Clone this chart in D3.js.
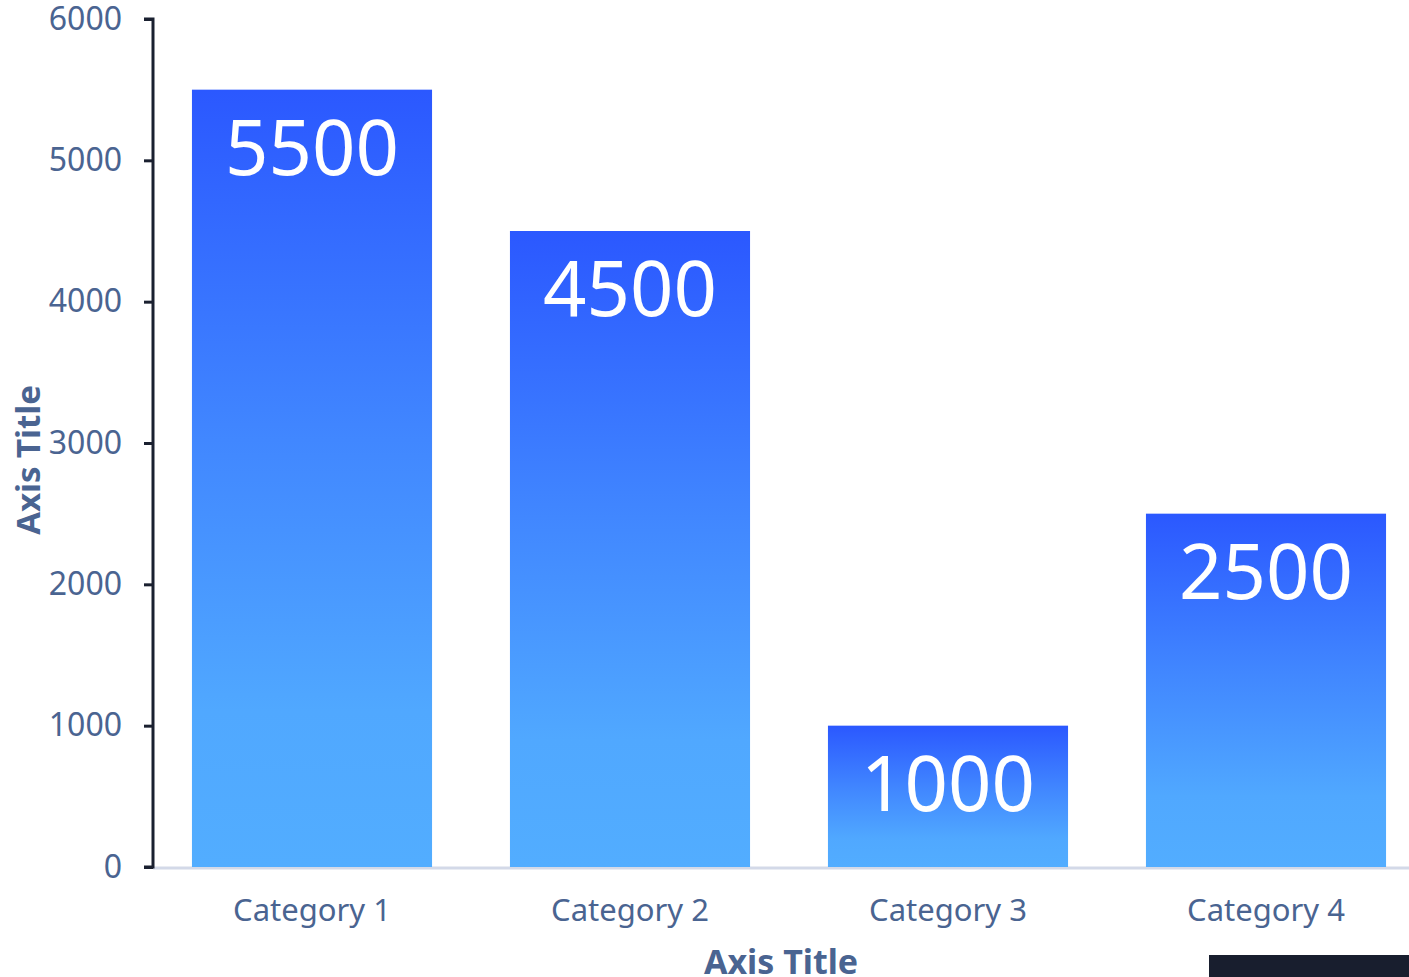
<!DOCTYPE html>
<html>
<head>
<meta charset="utf-8">
<script src="https://cdn.jsdelivr.net/npm/d3@7"></script>
<style>
  body { margin: 0; background: #fff; overflow: hidden; }
  svg { display: block; font-family: "Noto Sans", "Open Sans", sans-serif; }
</style>
</head>
<body>
<div id="chart"></div>
<script>
const categories = ["Category 1", "Category 2", "Category 3", "Category 4"];
const values = [5500, 4500, 1000, 2500];
const yTicks = [0, 1000, 2000, 3000, 4000, 5000, 6000];

const W = 1409, H = 977;
const margin = {top: 19, left: 153, bottom: 110};
const plotBottom = H - margin.bottom; // 867

const svg = d3.select("#chart")
  .append("svg")
    .attr("width", W)
    .attr("height", H);

// one gradient per bar (top dark blue -> light blue)
const defs = svg.append("defs");
const grad = defs.append("linearGradient")
    .attr("id", "barGrad")
    .attr("x1", 0).attr("y1", 0)
    .attr("x2", 0).attr("y2", 1);
grad.append("stop").attr("offset", "0%").attr("stop-color", "#2b58ff");
grad.append("stop").attr("offset", "45%").attr("stop-color", "#4187ff");
grad.append("stop").attr("offset", "80%").attr("stop-color", "#50a8ff");
grad.append("stop").attr("offset", "100%").attr("stop-color", "#52adff");

const x = d3.scaleBand()
  .domain(categories)
  .range([margin.left, margin.left + 4 * 318])
  .paddingInner(0.245)
  .paddingOuter(0.1225);

const y = d3.scaleLinear()
  .domain([0, 6000])
  .range([plotBottom, margin.top]);

// baseline (light)
svg.append("line")
  .attr("x1", margin.left).attr("x2", W)
  .attr("y1", y(0) + 1).attr("y2", y(0) + 1)
  .attr("stroke", "#d3d9e8")
  .attr("stroke-width", 3);

// bars
svg.append("g")
  .selectAll("rect")
  .data(values)
  .join("rect")
    .attr("x", (d, i) => x(categories[i]))
    .attr("y", d => y(d))
    .attr("width", x.bandwidth())
    .attr("height", d => y(0) - y(d))
    .attr("fill", "url(#barGrad)");

// value labels
svg.append("g")
  .selectAll("text")
  .data(values)
  .join("text")
    .attr("x", (d, i) => x(categories[i]) + x.bandwidth() / 2)
    .attr("y", d => y(d) + 85)
    .attr("text-anchor", "middle")
    .style("font-size", "76px")
    .style("fill", "#ffffff")
    .text(d => d);

// y axis
const yAxis = svg.append("g")
  .attr("transform", `translate(${margin.left},0)`)
  .call(d3.axisLeft(y).tickValues(yTicks).tickSize(9).tickPadding(22).tickFormat(d3.format("d")));
yAxis.select(".domain")
  .attr("stroke", "#1a2030")
  .attr("stroke-width", 3)
  .attr("d", `M-9,${y(6000)}H0V${y(0)}H-9`);
yAxis.selectAll(".tick line")
  .attr("stroke", "#1a2030")
  .attr("stroke-width", 3);
yAxis.selectAll(".tick text")
  .style("font-size", "32px")
  .style("font-family", "Noto Sans")
  .attr("fill", "#4a6491");

// x axis labels
svg.append("g")
  .selectAll("text")
  .data(categories)
  .join("text")
    .attr("x", d => x(d) + x.bandwidth() / 2)
    .attr("y", 921)
    .attr("text-anchor", "middle")
    .style("font-size", "31px")
    .style("fill", "#4a6491")
    .text(d => d);

// axis titles
svg.append("text")
  .attr("x", 781)
  .attr("y", 974)
  .attr("text-anchor", "middle")
  .style("font-size", "34px")
  .style("font-weight", "bold")
  .style("fill", "#4a6491")
  .text("Axis Title");

svg.append("text")
  .attr("transform", "rotate(-90)")
  .attr("x", -460)
  .attr("y", 40)
  .attr("text-anchor", "middle")
  .style("font-size", "33px")
  .style("font-weight", "bold")
  .style("fill", "#4a6491")
  .text("Axis Title");

// dark block bottom right
svg.append("rect")
  .attr("x", 1209).attr("y", 955)
  .attr("width", 200).attr("height", 22)
  .attr("fill", "#181e2e");
</script>
</body>
</html>
